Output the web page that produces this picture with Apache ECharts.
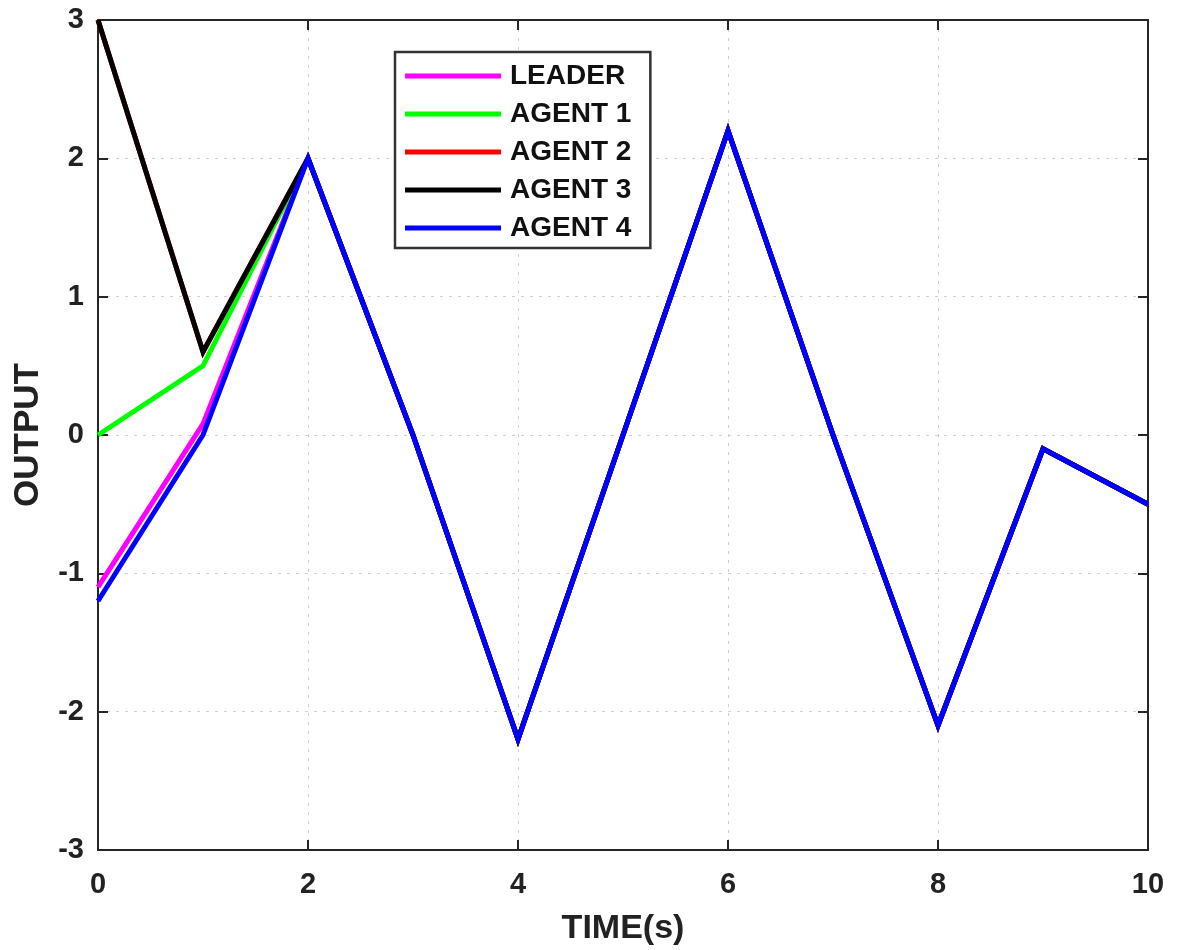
<!DOCTYPE html>
<html>
<head>
<meta charset="utf-8">
<script src="https://cdn.jsdelivr.net/npm/echarts@6/dist/echarts.min.js"></script>
<style>
  html, body { margin: 0; padding: 0; background: #ffffff; }
  #chart { width: 1179px; height: 950px; }
</style>
</head>
<body>
<div id="chart"></div>
<script>
// Sample times (s)
const time = [0, 1, 2, 3, 4, 5, 6, 7, 8, 9, 10];

// Output trajectories of the leader and each agent
const leader = [-1.1, 0.08, 2, 0, -2.2, 0, 2.2, 0, -2.1, -0.1, -0.5];
const agent1 = [0, 0.5, 2, 0, -2.2, 0, 2.2, 0, -2.1, -0.1, -0.5];
const agent2 = [3, 0.6, 2, 0, -2.2, 0, 2.2, 0, -2.1, -0.1, -0.5];
const agent3 = [3, 0.6, 2, 0, -2.2, 0, 2.2, 0, -2.1, -0.1, -0.5];
const agent4 = [-1.2, 0, 2, 0, -2.2, 0, 2.2, 0, -2.1, -0.1, -0.5];

const seriesNames = ['LEADER', 'AGENT 1', 'AGENT 2', 'AGENT 3', 'AGENT 4'];
const seriesColors = ['#ff00ff', '#00ff00', '#ff0000', '#000000', '#0000ff'];
const seriesValues = [leader, agent1, agent2, agent3, agent4];

const xTicks = [0, 2, 4, 6, 8, 10];
const yTicks = [-3, -2, -1, 0, 1, 2, 3];

const FONT = '"Liberation Sans", Arial, sans-serif';
const AXIS_COLOR = '#262626';

const chart = echarts.init(document.getElementById('chart'), null, { renderer: 'canvas' });

function pairs(values) {
  return time.map((t, i) => [t, values[i]]);
}

const baseAxis = {
  axisLine: { show: true, onZero: false, lineStyle: { color: AXIS_COLOR, width: 2 } },
  axisTick: { show: true, inside: true, length: 10, lineStyle: { color: AXIS_COLOR, width: 2 } },
};

chart.setOption({
  animation: false,
  backgroundColor: '#ffffff',
  grid: { left: 98, right: 31, top: 20, bottom: 100, containLabel: false, outerBoundsMode: 'none' },
  legend: {
    orient: 'vertical',
    left: 395,
    top: 52,
    padding: [10, 19, 6, 10],
    itemGap: 10,
    itemWidth: 96,
    itemHeight: 5,
    icon: 'rect',
    borderColor: '#333333',
    borderWidth: 2.5,
    backgroundColor: '#ffffff',
    data: seriesNames,
    textStyle: {
      fontFamily: FONT,
      fontWeight: 'bold',
      fontSize: 28,
      lineHeight: 28,
      color: '#111111',
      padding: [0, 0, 0, 4]
    }
  },
  xAxis: [
    Object.assign({}, baseAxis, {
      type: 'value',
      position: 'bottom',
      min: 0, max: 10, interval: 2,
      name: 'TIME(s)',
      nameLocation: 'middle',
      nameGap: 62,
      nameTextStyle: { fontFamily: FONT, fontWeight: 'bold', fontSize: 34, color: '#222222' },
      axisLabel: {
        fontFamily: FONT, fontWeight: 'bold', fontSize: 29, color: '#222222', margin: 20,
        formatter: v => (xTicks.includes(v) ? String(v) : '')
      },
      splitLine: { show: true, lineStyle: { color: '#cfcfcf', width: 1, type: [3, 6] } }
    }),
    Object.assign({}, baseAxis, {
      type: 'value',
      position: 'top',
      min: 0, max: 10, interval: 2,
      axisLabel: { show: false },
      splitLine: { show: false }
    })
  ],
  yAxis: [
    Object.assign({}, baseAxis, {
      type: 'value',
      position: 'left',
      min: -3, max: 3, interval: 1,
      name: 'OUTPUT',
      nameLocation: 'middle',
      nameGap: 52,
      nameRotate: 90,
      nameTextStyle: { fontFamily: FONT, fontWeight: 'bold', fontSize: 35, color: '#222222' },
      axisLabel: {
        fontFamily: FONT, fontWeight: 'bold', fontSize: 29, color: '#222222', margin: 14,
        formatter: v => (yTicks.includes(v) ? String(v) : '')
      },
      splitLine: { show: true, lineStyle: { color: '#cfcfcf', width: 1, type: [3, 6] } }
    }),
    Object.assign({}, baseAxis, {
      type: 'value',
      position: 'right',
      min: -3, max: 3, interval: 1,
      axisLabel: { show: false },
      splitLine: { show: false }
    })
  ],
  series: seriesNames.map((name, i) => ({
    name: name,
    type: 'line',
    xAxisIndex: 0,
    yAxisIndex: 0,
    data: pairs(seriesValues[i]),
    showSymbol: false,
    symbol: 'none',
    color: seriesColors[i],
    lineStyle: { color: seriesColors[i], width: 5, join: 'miter' },
    z: 2 + i
  }))
});
</script>
</body>
</html>
